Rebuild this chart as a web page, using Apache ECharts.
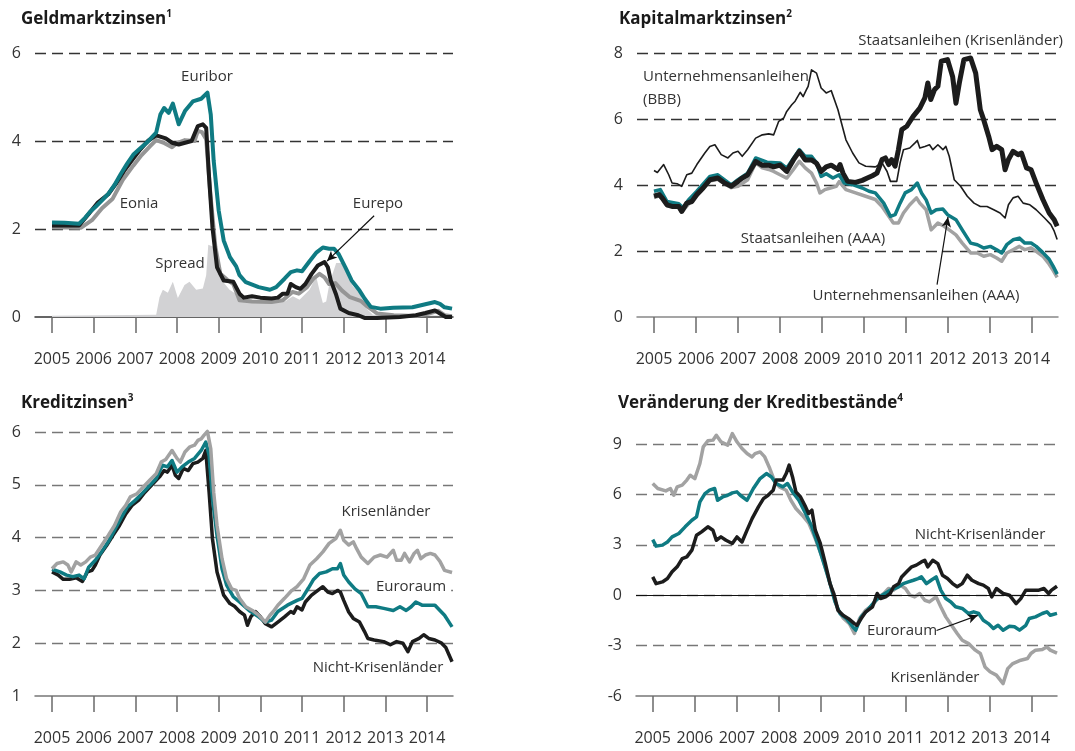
<!DOCTYPE html>
<html>
<head>
<meta charset="utf-8">
<script src="https://cdn.jsdelivr.net/npm/echarts@6/dist/echarts.min.js"></script>
<style>
  html, body { margin: 0; padding: 0; background: #fff; }
  #chart { width: 1075px; height: 751px; }
</style>
</head>
<body>
<div id="chart"></div>
<script>
// Jahres-Ticks (gemeinsam für alle vier Panels)
var years = [2005, 2006, 2007, 2008, 2009, 2010, 2011, 2012, 2013, 2014]

// Panel 1: Geldmarktzinsen
var euribor = [[2005.0,2.15],[2005.3,2.14],[2005.65,2.12],[2005.8,2.26],[2005.92,2.4],[2006.04,2.5],[2006.2,2.65],[2006.35,2.8],[2006.5,3.0],[2006.65,3.25],[2006.8,3.48],[2006.96,3.7],[2007.1,3.82],[2007.27,3.96],[2007.5,4.19],[2007.6,4.6],[2007.69,4.75],[2007.8,4.64],[2007.9,4.85],[2008.04,4.38],[2008.19,4.68],[2008.38,4.9],[2008.58,4.96],[2008.73,5.1],[2008.81,4.6],[2008.88,3.55],[2009.0,2.42],[2009.12,1.74],[2009.27,1.36],[2009.42,1.15],[2009.5,0.95],[2009.65,0.79],[2009.96,0.68],[2010.23,0.62],[2010.38,0.68],[2010.58,0.87],[2010.73,1.02],[2010.88,1.06],[2011.0,1.04],[2011.19,1.28],[2011.35,1.47],[2011.5,1.58],[2011.65,1.55],[2011.77,1.55],[2011.88,1.43],[2012.04,1.13],[2012.19,0.83],[2012.38,0.6],[2012.5,0.42],[2012.65,0.23],[2012.88,0.19],[2013.19,0.21],[2013.65,0.22],[2013.96,0.29],[2014.19,0.34],[2014.31,0.3],[2014.42,0.22],[2014.6,0.19]]
var eonia = [[2005.0,2.08],[2005.65,2.08],[2005.88,2.34],[2006.1,2.6],[2006.35,2.79],[2006.55,3.05],[2006.73,3.32],[2006.95,3.6],[2007.12,3.81],[2007.3,4.0],[2007.5,4.13],[2007.73,4.06],[2007.88,3.96],[2008.04,3.92],[2008.35,4.0],[2008.5,4.34],[2008.62,4.38],[2008.7,4.3],[2008.77,3.17],[2008.85,2.04],[2008.96,1.13],[2009.12,0.83],[2009.35,0.8],[2009.5,0.53],[2009.6,0.44],[2009.8,0.47],[2010.0,0.44],[2010.27,0.42],[2010.42,0.44],[2010.54,0.53],[2010.65,0.53],[2010.73,0.75],[2010.85,0.68],[2010.96,0.64],[2011.08,0.75],[2011.23,0.98],[2011.38,1.17],[2011.54,1.25],[2011.62,1.13],[2011.69,0.83],[2011.81,0.53],[2011.92,0.19],[2012.12,0.09],[2012.35,0.04],[2012.5,-0.02],[2012.8,-0.02],[2013.35,0.0],[2013.73,0.04],[2013.96,0.09],[2014.19,0.15],[2014.31,0.08],[2014.45,0.0],[2014.6,0.0]]
var eurepo = [[2005.0,2.04],[2005.7,2.03],[2005.96,2.2],[2006.2,2.47],[2006.45,2.68],[2006.7,3.12],[2006.95,3.44],[2007.15,3.68],[2007.35,3.88],[2007.5,4.02],[2007.7,3.95],[2007.88,3.86],[2008.0,3.95],[2008.19,4.02],[2008.42,4.0],[2008.5,4.23],[2008.6,4.2],[2008.7,4.04],[2008.8,2.8],[2008.92,1.6],[2009.04,0.98],[2009.2,0.85],[2009.35,0.75],[2009.5,0.38],[2009.8,0.35],[2010.27,0.34],[2010.54,0.38],[2010.77,0.57],[2010.92,0.53],[2011.12,0.68],[2011.27,0.87],[2011.42,0.98],[2011.54,0.9],[2011.65,0.75],[2011.8,0.77],[2011.96,0.6],[2012.15,0.45],[2012.42,0.36],[2012.58,0.23],[2012.8,0.08],[2013.2,0.04],[2013.73,0.02],[2014.04,0.08],[2014.27,0.14],[2014.42,0.04],[2014.6,0.02]]
var spread = [[2005.0,0.03],[2007.5,0.05],[2007.58,0.45],[2007.66,0.62],[2007.78,0.55],[2007.9,0.8],[2008.02,0.43],[2008.18,0.73],[2008.3,0.8],[2008.46,0.62],[2008.62,0.65],[2008.7,0.95],[2008.75,1.64],[2008.86,1.6],[2008.94,1.23],[2009.06,0.85],[2009.26,0.62],[2009.5,0.47],[2009.82,0.38],[2010.14,0.36],[2010.6,0.36],[2010.78,0.47],[2010.94,0.39],[2011.18,0.62],[2011.34,0.92],[2011.42,0.6],[2011.5,0.32],[2011.58,0.35],[2011.66,0.77],[2011.82,1.23],[2011.94,1.23],[2012.06,1.0],[2012.22,0.7],[2012.38,0.55],[2012.54,0.2],[2012.7,0.05],[2014.6,0.03]]

// Panel 2: Kapitalmarktzinsen
var unternBBB = [[2005.0,4.44],[2005.08,4.38],[2005.23,4.62],[2005.35,4.31],[2005.43,4.06],[2005.55,4.04],[2005.66,3.96],[2005.78,4.31],[2005.9,4.36],[2006.02,4.62],[2006.21,4.97],[2006.33,5.17],[2006.45,5.22],[2006.6,4.92],[2006.76,4.82],[2006.88,4.97],[2007.0,5.02],[2007.1,4.87],[2007.23,5.07],[2007.42,5.42],[2007.58,5.52],[2007.73,5.55],[2007.85,5.52],[2007.97,5.93],[2008.09,6.03],[2008.16,6.23],[2008.28,6.43],[2008.36,6.54],[2008.48,6.81],[2008.55,6.68],[2008.63,6.89],[2008.67,6.99],[2008.75,7.49],[2008.87,7.39],[2008.98,6.94],[2009.1,6.79],[2009.22,6.86],[2009.38,6.28],[2009.57,5.37],[2009.73,4.97],[2009.88,4.67],[2010.04,4.57],[2010.27,4.55],[2010.43,4.67],[2010.55,4.41],[2010.63,4.11],[2010.78,4.11],[2010.86,4.67],[2010.94,5.07],[2011.09,5.12],[2011.21,5.27],[2011.27,5.35],[2011.33,5.12],[2011.45,5.17],[2011.56,5.22],[2011.64,5.07],[2011.76,5.22],[2011.88,5.07],[2011.95,5.17],[2012.03,4.87],[2012.15,4.16],[2012.3,3.96],[2012.46,3.66],[2012.62,3.45],[2012.77,3.35],[2012.93,3.35],[2013.09,3.25],[2013.24,3.15],[2013.36,3.0],[2013.44,3.4],[2013.55,3.61],[2013.67,3.66],[2013.79,3.45],[2013.95,3.4],[2014.1,3.25],[2014.3,3.0],[2014.45,2.8],[2014.53,2.6],[2014.6,2.35]]
var staatKrise = [[2005.0,3.66],[2005.12,3.71],[2005.2,3.6],[2005.31,3.4],[2005.43,3.35],[2005.59,3.35],[2005.66,3.2],[2005.78,3.45],[2005.9,3.5],[2006.02,3.71],[2006.17,3.91],[2006.33,4.16],[2006.52,4.21],[2006.68,4.06],[2006.84,3.96],[2007.0,4.11],[2007.1,4.21],[2007.23,4.31],[2007.42,4.71],[2007.58,4.6],[2007.73,4.6],[2007.85,4.55],[2008.0,4.6],[2008.16,4.41],[2008.32,4.76],[2008.46,5.02],[2008.6,4.76],[2008.75,4.76],[2008.87,4.66],[2008.98,4.41],[2009.1,4.55],[2009.22,4.6],[2009.38,4.47],[2009.43,4.62],[2009.5,4.36],[2009.61,4.11],[2009.8,4.08],[2009.96,4.14],[2010.08,4.21],[2010.2,4.28],[2010.31,4.36],[2010.43,4.77],[2010.51,4.82],[2010.59,4.62],[2010.66,4.77],[2010.74,4.57],[2010.82,5.07],[2010.9,5.68],[2011.02,5.78],[2011.17,6.08],[2011.33,6.33],[2011.45,6.64],[2011.52,7.09],[2011.59,6.59],[2011.68,6.89],[2011.76,6.99],[2011.84,7.75],[2011.99,7.8],[2012.11,7.29],[2012.19,6.48],[2012.27,7.09],[2012.38,7.8],[2012.54,7.85],[2012.66,7.39],[2012.77,6.28],[2012.85,5.98],[2012.97,5.47],[2013.05,5.07],[2013.16,5.17],[2013.28,5.07],[2013.36,4.46],[2013.44,4.77],[2013.55,5.02],[2013.67,4.92],[2013.75,4.97],[2013.87,4.52],[2013.98,4.46],[2014.1,4.06],[2014.26,3.56],[2014.41,3.15],[2014.53,2.95],[2014.6,2.75]]
var unternAAA = [[2005.0,3.81],[2005.15,3.86],[2005.31,3.5],[2005.59,3.43],[2005.7,3.3],[2005.82,3.55],[2006.02,3.81],[2006.33,4.26],[2006.52,4.31],[2006.84,4.0],[2007.0,4.16],[2007.23,4.36],[2007.42,4.82],[2007.69,4.69],[2008.0,4.67],[2008.16,4.51],[2008.46,5.07],[2008.6,4.87],[2008.75,4.87],[2008.87,4.67],[2008.98,4.26],[2009.1,4.34],[2009.26,4.21],[2009.41,4.31],[2009.53,4.06],[2009.73,4.01],[2009.96,3.91],[2010.12,3.81],[2010.27,3.76],[2010.47,3.45],[2010.63,3.05],[2010.74,3.1],[2010.86,3.45],[2010.98,3.76],[2011.13,3.86],[2011.27,4.06],[2011.37,3.76],[2011.48,3.55],[2011.6,3.15],[2011.72,3.25],[2011.88,3.27],[2011.99,3.1],[2012.19,2.95],[2012.34,2.64],[2012.54,2.24],[2012.7,2.19],[2012.85,2.09],[2013.01,2.14],[2013.16,2.04],[2013.28,1.94],[2013.4,2.19],[2013.55,2.34],[2013.7,2.39],[2013.83,2.24],[2013.98,2.24],[2014.1,2.14],[2014.26,1.95],[2014.41,1.75],[2014.5,1.55],[2014.6,1.3]]
var staatAAA = [[2005.0,3.62],[2005.15,3.68],[2005.31,3.37],[2005.59,3.32],[2005.66,3.18],[2005.82,3.42],[2006.02,3.68],[2006.33,4.12],[2006.52,4.17],[2006.84,3.92],[2007.0,3.96],[2007.23,4.16],[2007.42,4.67],[2007.58,4.52],[2007.73,4.47],[2007.85,4.41],[2008.0,4.31],[2008.16,4.21],[2008.32,4.47],[2008.46,4.72],[2008.6,4.52],[2008.75,4.36],[2008.87,4.06],[2008.95,3.76],[2009.07,3.86],[2009.2,3.91],[2009.34,3.96],[2009.41,4.1],[2009.57,3.86],[2009.8,3.76],[2010.04,3.66],[2010.27,3.56],[2010.43,3.35],[2010.59,3.05],[2010.7,2.85],[2010.82,2.85],[2010.94,3.15],[2011.09,3.4],[2011.25,3.61],[2011.33,3.45],[2011.48,3.25],[2011.6,2.64],[2011.76,2.85],[2011.91,2.75],[2012.03,2.64],[2012.19,2.49],[2012.34,2.24],[2012.54,1.94],[2012.7,1.94],[2012.85,1.84],[2013.01,1.89],[2013.16,1.79],[2013.28,1.69],[2013.4,1.94],[2013.55,2.04],[2013.7,2.14],[2013.83,2.04],[2013.98,2.09],[2014.1,1.99],[2014.26,1.84],[2014.41,1.6],[2014.5,1.42],[2014.6,1.2]]

// Panel 3: Kreditzinsen
var kzKrise = [[2005.0,3.41],[2005.12,3.51],[2005.27,3.54],[2005.38,3.48],[2005.46,3.35],[2005.58,3.54],[2005.69,3.48],[2005.81,3.54],[2005.92,3.63],[2006.04,3.67],[2006.19,3.85],[2006.35,4.04],[2006.5,4.23],[2006.65,4.49],[2006.77,4.61],[2006.88,4.77],[2007.04,4.83],[2007.19,4.96],[2007.35,5.09],[2007.5,5.21],[2007.62,5.43],[2007.73,5.48],[2007.88,5.65],[2008.0,5.5],[2008.08,5.43],[2008.19,5.62],[2008.31,5.72],[2008.42,5.75],[2008.5,5.84],[2008.58,5.87],[2008.65,5.94],[2008.73,6.01],[2008.81,5.68],[2008.88,4.86],[2008.96,4.23],[2009.08,3.6],[2009.19,3.22],[2009.31,3.03],[2009.42,3.0],[2009.5,2.85],[2009.65,2.69],[2009.81,2.62],[2009.96,2.53],[2010.12,2.4],[2010.23,2.53],[2010.31,2.6],[2010.42,2.72],[2010.58,2.85],[2010.73,2.98],[2010.88,3.07],[2011.04,3.22],[2011.19,3.48],[2011.35,3.6],[2011.5,3.73],[2011.65,3.89],[2011.81,3.98],[2011.92,4.14],[2012.0,3.95],[2012.12,3.86],[2012.23,3.92],[2012.31,3.79],[2012.42,3.63],[2012.58,3.51],[2012.73,3.63],[2012.88,3.67],[2013.04,3.63],[2013.19,3.76],[2013.27,3.57],[2013.38,3.57],[2013.46,3.7],[2013.58,3.54],[2013.69,3.7],[2013.77,3.76],[2013.85,3.6],[2013.96,3.67],[2014.08,3.7],[2014.19,3.67],[2014.31,3.55],[2014.42,3.38],[2014.6,3.34]]
var kzEuro = [[2005.0,3.4],[2005.19,3.35],[2005.35,3.29],[2005.5,3.26],[2005.65,3.29],[2005.77,3.22],[2005.88,3.44],[2006.04,3.57],[2006.19,3.73],[2006.35,3.92],[2006.5,4.14],[2006.65,4.36],[2006.81,4.58],[2006.96,4.68],[2007.12,4.8],[2007.35,4.99],[2007.5,5.12],[2007.65,5.37],[2007.77,5.34],[2007.88,5.46],[2008.0,5.24],[2008.12,5.34],[2008.27,5.43],[2008.42,5.5],[2008.58,5.65],[2008.69,5.81],[2008.77,5.56],[2008.85,4.74],[2008.96,4.04],[2009.08,3.41],[2009.19,3.1],[2009.35,2.88],[2009.5,2.78],[2009.73,2.62],[2009.96,2.5],[2010.12,2.4],[2010.27,2.44],[2010.42,2.6],[2010.65,2.72],[2010.88,2.81],[2011.0,2.85],[2011.15,3.04],[2011.27,3.2],[2011.42,3.32],[2011.58,3.35],[2011.73,3.41],[2011.85,3.41],[2011.92,3.51],[2012.0,3.29],[2012.12,3.16],[2012.27,3.03],[2012.42,2.94],[2012.58,2.69],[2012.77,2.69],[2012.96,2.66],[2013.19,2.62],[2013.35,2.69],[2013.5,2.62],[2013.62,2.69],[2013.73,2.78],[2013.88,2.72],[2014.04,2.72],[2014.19,2.72],[2014.31,2.62],[2014.42,2.53],[2014.6,2.31]]
var kzNicht = [[2005.0,3.35],[2005.15,3.29],[2005.27,3.21],[2005.42,3.21],[2005.58,3.24],[2005.73,3.17],[2005.85,3.35],[2005.96,3.38],[2006.04,3.48],[2006.15,3.67],[2006.31,3.85],[2006.46,4.04],[2006.62,4.23],[2006.77,4.45],[2006.92,4.61],[2007.08,4.71],[2007.23,4.86],[2007.42,5.02],[2007.58,5.15],[2007.69,5.27],[2007.77,5.24],[2007.88,5.37],[2007.96,5.18],[2008.04,5.12],[2008.15,5.31],[2008.27,5.27],[2008.38,5.4],[2008.5,5.43],[2008.62,5.5],[2008.69,5.65],[2008.77,4.86],[2008.85,3.98],[2008.96,3.35],[2009.12,2.91],[2009.27,2.75],[2009.38,2.7],[2009.5,2.6],[2009.62,2.53],[2009.69,2.34],[2009.77,2.5],[2009.88,2.6],[2010.0,2.5],[2010.12,2.37],[2010.27,2.31],[2010.42,2.4],[2010.58,2.5],[2010.73,2.6],[2010.8,2.57],[2010.88,2.69],[2011.0,2.63],[2011.08,2.78],[2011.23,2.91],[2011.38,3.0],[2011.5,3.07],[2011.62,2.97],[2011.73,2.94],[2011.85,3.0],[2011.92,2.97],[2012.0,2.81],[2012.12,2.59],[2012.23,2.47],[2012.38,2.4],[2012.5,2.22],[2012.58,2.09],[2012.73,2.06],[2012.96,2.03],[2013.12,1.97],[2013.27,2.03],[2013.42,2.0],[2013.54,1.84],[2013.65,2.03],[2013.81,2.09],[2013.92,2.16],[2014.04,2.09],[2014.19,2.06],[2014.35,2.0],[2014.45,1.92],[2014.6,1.65]]

// Panel 4: Veränderung der Kreditbestände
var kbKrise = [[2005.0,6.65],[2005.12,6.35],[2005.31,6.21],[2005.42,6.35],[2005.5,5.95],[2005.58,6.45],[2005.7,6.55],[2005.81,6.85],[2005.89,7.14],[2006.0,6.94],[2006.12,7.84],[2006.2,8.83],[2006.31,9.19],[2006.43,9.23],[2006.51,9.52],[2006.62,9.13],[2006.78,8.93],[2006.89,9.62],[2007.0,9.13],[2007.12,8.73],[2007.24,8.43],[2007.36,8.23],[2007.43,8.43],[2007.55,8.53],[2007.66,8.23],[2007.78,7.54],[2007.9,6.75],[2008.01,6.45],[2008.17,6.25],[2008.28,5.65],[2008.4,5.16],[2008.55,4.76],[2008.71,4.27],[2008.86,3.37],[2009.02,2.28],[2009.17,1.09],[2009.29,0.0],[2009.4,-0.9],[2009.52,-1.35],[2009.67,-1.7],[2009.79,-2.28],[2009.91,-1.39],[2010.06,-0.89],[2010.22,-0.6],[2010.37,-0.1],[2010.49,0.1],[2010.6,0.4],[2010.72,0.3],[2010.88,0.6],[2011.0,0.4],[2011.11,0.0],[2011.22,-0.1],[2011.34,0.1],[2011.46,-0.3],[2011.57,-0.4],[2011.73,-0.1],[2011.84,-0.69],[2011.96,-1.29],[2012.12,-1.88],[2012.23,-2.28],[2012.35,-2.68],[2012.5,-2.88],[2012.66,-3.27],[2012.78,-3.47],[2012.89,-4.27],[2013.01,-4.56],[2013.16,-4.76],[2013.32,-5.26],[2013.43,-4.37],[2013.55,-4.07],[2013.74,-3.87],[2013.9,-3.77],[2013.98,-3.47],[2014.09,-3.27],[2014.25,-3.23],[2014.36,-3.08],[2014.44,-3.27],[2014.6,-3.45]]
var kbEuro = [[2005.0,3.31],[2005.08,2.92],[2005.23,2.98],[2005.35,3.17],[2005.46,3.47],[2005.62,3.67],[2005.77,4.07],[2005.93,4.46],[2006.04,4.66],[2006.12,5.56],[2006.24,6.05],[2006.35,6.25],[2006.47,6.35],[2006.54,5.65],[2006.66,5.85],[2006.78,5.95],[2006.89,6.09],[2007.0,6.15],[2007.08,5.95],[2007.24,5.65],[2007.39,6.35],[2007.55,6.94],[2007.7,7.24],[2007.82,7.04],[2007.93,6.65],[2008.09,6.45],[2008.2,6.65],[2008.32,6.15],[2008.47,5.65],[2008.63,4.86],[2008.78,4.07],[2008.94,2.88],[2009.09,1.69],[2009.22,0.6],[2009.33,-0.4],[2009.45,-1.1],[2009.6,-1.4],[2009.75,-1.88],[2009.82,-2.08],[2009.95,-1.29],[2010.1,-0.89],[2010.3,-0.3],[2010.45,0.0],[2010.64,0.3],[2010.84,0.5],[2010.95,0.69],[2011.07,0.79],[2011.19,0.89],[2011.3,0.99],[2011.38,1.09],[2011.5,0.69],[2011.61,0.89],[2011.73,1.09],[2011.84,0.3],[2011.96,-0.2],[2012.08,-0.4],[2012.19,-0.69],[2012.35,-0.79],[2012.5,-1.09],[2012.62,-0.99],[2012.74,-1.09],[2012.85,-1.49],[2012.97,-1.69],[2013.09,-1.98],[2013.2,-1.79],[2013.32,-2.08],[2013.47,-1.85],[2013.59,-1.88],[2013.71,-2.08],[2013.86,-1.79],[2013.94,-1.39],[2014.09,-1.29],[2014.25,-1.09],[2014.36,-0.99],[2014.44,-1.19],[2014.6,-1.08]]
var kbNicht = [[2005.0,1.09],[2005.08,0.69],[2005.23,0.79],[2005.35,0.99],[2005.46,1.39],[2005.58,1.69],[2005.7,2.18],[2005.81,2.28],[2005.93,2.68],[2006.04,3.57],[2006.16,3.77],[2006.31,4.07],[2006.43,3.87],[2006.51,3.27],[2006.62,3.47],[2006.74,3.27],[2006.89,3.08],[2007.0,3.47],[2007.12,3.17],[2007.24,3.87],[2007.36,4.56],[2007.51,5.26],[2007.63,5.75],[2007.74,5.95],[2007.86,6.25],[2007.93,6.85],[2008.09,6.85],[2008.17,7.24],[2008.24,7.74],[2008.32,7.04],[2008.4,6.15],[2008.51,5.85],[2008.63,5.26],[2008.7,4.86],[2008.78,5.06],[2008.86,3.87],[2008.98,3.08],[2009.1,1.88],[2009.21,0.69],[2009.3,0.1],[2009.4,-0.9],[2009.52,-1.2],[2009.65,-1.4],[2009.79,-1.69],[2009.85,-1.79],[2009.95,-1.39],[2010.06,-0.99],[2010.22,-0.69],[2010.33,0.1],[2010.41,-0.2],[2010.53,-0.1],[2010.64,0.1],[2010.72,0.5],[2010.84,0.69],[2010.91,1.09],[2011.03,1.39],[2011.15,1.69],[2011.26,1.79],[2011.38,1.98],[2011.46,2.08],[2011.53,1.69],[2011.65,2.08],[2011.77,1.88],[2011.88,1.19],[2012.0,0.99],[2012.12,0.69],[2012.23,0.5],[2012.35,0.69],[2012.47,1.19],[2012.58,0.89],[2012.74,0.69],[2012.85,0.6],[2012.97,0.4],[2013.05,-0.1],[2013.16,0.4],[2013.32,0.1],[2013.47,0.0],[2013.63,-0.5],[2013.74,-0.2],[2013.86,0.3],[2014.02,0.3],[2014.17,0.3],[2014.29,0.4],[2014.4,0.1],[2014.47,0.3],[2014.6,0.53]]

var FONT = '"Open Sans", "Noto Sans", sans-serif'
var TEAL = '#0f7b83'
var BLACK = '#1c1c1c'
var GREY = '#a2a2a2'

var chart = echarts.init(document.getElementById('chart'))

function xAxisOf(gi, min, max, lineColor) {
  return {
    type: 'value',
    gridIndex: gi,
    min: min,
    max: max,
    splitLine: { show: false },
    axisLine: { show: true, onZero: false, lineStyle: { color: lineColor, width: 1.5 } },
    axisTick: {
      show: true,
      customValues: years,
      length: 16,
      lineStyle: { color: '#6a6a6a', width: 1.5 }
    },
    axisLabel: {
      customValues: years,
      margin: 34,
      fontSize: 16,
      fontFamily: FONT,
      color: '#333',
      formatter: function (v) { return String(v) }
    }
  }
}

function yAxisOf(gi, min, max, step, dashColor) {
  return {
    type: 'value',
    gridIndex: gi,
    min: min,
    max: max,
    interval: step,
    axisLine: { show: false },
    axisTick: { show: false },
    axisLabel: { margin: 14, fontSize: 16, fontFamily: FONT, color: '#333' },
    splitLine: {
      show: true,
      showMinLine: false,
      lineStyle: { color: dashColor, width: 1.3, type: [11, 6] }
    }
  }
}

function line(data, gi, color, width, z) {
  return {
    type: 'line',
    xAxisIndex: gi,
    yAxisIndex: gi,
    data: data,
    symbol: 'none',
    clip: false,
    z: z,
    lineStyle: { color: color, width: width, join: 'round' },
    itemStyle: { color: color }
  }
}

function arrow(from, to) {
  return {
    silent: true,
    symbol: ['none', 'arrow'],
    symbolSize: [7, 10],
    label: { show: false },
    lineStyle: { color: '#111', width: 1.2, type: 'solid' },
    data: [[{ coord: from }, { coord: to }]]
  }
}

function label(text, x, y, align, bg) {
  return {
    type: 'text',
    x: x,
    y: y,
    z: 100,
    style: {
      text: text,
      font: '15px ' + FONT,
      fill: '#333',
      align: align || 'center',
      verticalAlign: 'middle',
      backgroundColor: bg ? '#fff' : null,
      padding: bg ? [0, 5] : 0
    }
  }
}

function title(text, sup, x, y) {
  return {
    type: 'text',
    x: x,
    y: y,
    style: {
      text: '{t|' + text + '}{s|' + sup + '}',
      rich: {
        t: { font: 'bold 17px ' + FONT, fill: '#1a1a1a', lineHeight: 20 },
        s: { font: 'bold 10px ' + FONT, fill: '#1a1a1a', lineHeight: 20, verticalAlign: 'top', padding: [0, 0, 8, 0] }
      }
    }
  }
}

// Spread-Fläche
var spreadSeries = line(spread, 0, '#d2d2d4', 0, 1)
spreadSeries.areaStyle = { color: '#d2d2d4', opacity: 1 }

var eonSeries = line(eonia, 0, BLACK, 4, 3)
var repoSeries = line(eurepo, 0, '#959595', 4, 2)
repoSeries.markLine = arrow([2012.73, 2.3], [2011.6, 1.27])

var aaaSeries = line(unternAAA, 1, TEAL, 3.5, 3)
aaaSeries.markLine = arrow([2011.74, 0.98], [2012.0, 3.03])

var kbEuroSeries = line(kbEuro, 3, TEAL, 3.5, 3)
kbEuroSeries.markLine = arrow([2011.74, -2.1], [2012.72, -1.2])

var kbKriseSeries = line(kbKrise, 3, GREY, 3.5, 2)
kbKriseSeries.markLine = {
  silent: true,
  symbol: 'none',
  label: { show: false },
  lineStyle: { color: '#111', width: 1, type: 'solid' },
  data: [{ yAxis: 0 }]
}

var option = {
  animation: false,
  backgroundColor: '#fff',
  grid: [
    { left: 35, top: 53, width: 418, height: 264 },
    { left: 637, top: 53, width: 421, height: 264 },
    { left: 35, top: 432, width: 418, height: 264 },
    { left: 636, top: 444, width: 421, height: 252 }
  ],
  xAxis: [
    xAxisOf(0, 2004.592, 2014.623, '#333'),
    xAxisOf(1, 2004.595, 2014.62, '#888'),
    xAxisOf(2, 2004.592, 2014.623, '#777'),
    xAxisOf(3, 2004.603, 2014.6, '#777')
  ],
  yAxis: [
    yAxisOf(0, 0, 6, 2, '#333'),
    yAxisOf(1, 0, 8, 2, '#333'),
    yAxisOf(2, 1, 6, 1, '#777'),
    yAxisOf(3, -6, 9, 3, '#777')
  ],
  series: [
    spreadSeries,
    repoSeries,
    eonSeries,
    line(euribor, 0, TEAL, 4, 4),

    line(staatAAA, 1, GREY, 3.5, 2),
    aaaSeries,
    line(unternBBB, 1, BLACK, 1.6, 4),
    line(staatKrise, 1, BLACK, 5, 5),

    line(kzNicht, 2, BLACK, 3.5, 2),
    line(kzEuro, 2, TEAL, 3.5, 3),
    line(kzKrise, 2, GREY, 3.5, 4),

    kbKriseSeries,
    kbEuroSeries,
    line(kbNicht, 3, BLACK, 3.5, 4)
  ],
  graphic: [
    title('Geldmarktzinsen', '1', 21, 9),
    title('Kapitalmarktzinsen', '2', 619, 9),
    title('Kreditzinsen', '3', 21, 393),
    title('Veränderung der Kreditbestände', '4', 618, 393),

    label('Euribor', 207, 77),
    label('Eonia', 139, 204),
    label('Spread', 180, 264),
    label('Eurepo', 378, 204),

    label('Staatsanleihen (Krisenländer)', 1068, 41, 'right', true),
    label('Unternehmensanleihen', 643, 77, 'left'),
    label('(BBB)', 643, 100, 'left'),
    label('Staatsanleihen (AAA)', 813, 239, 'center', true),
    label('Unternehmensanleihen (AAA)', 916, 296),

    label('Krisenländer', 386, 512),
    label('Euroraum', 411, 587, 'center', true),
    label('Nicht-Krisenländer', 378, 668),

    label('Nicht-Krisenländer', 980, 535, 'center', true),
    label('Euroraum', 902, 631),
    label('Krisenländer', 935, 678)
  ]
}

chart.setOption(option)
</script>
</body>
</html>
